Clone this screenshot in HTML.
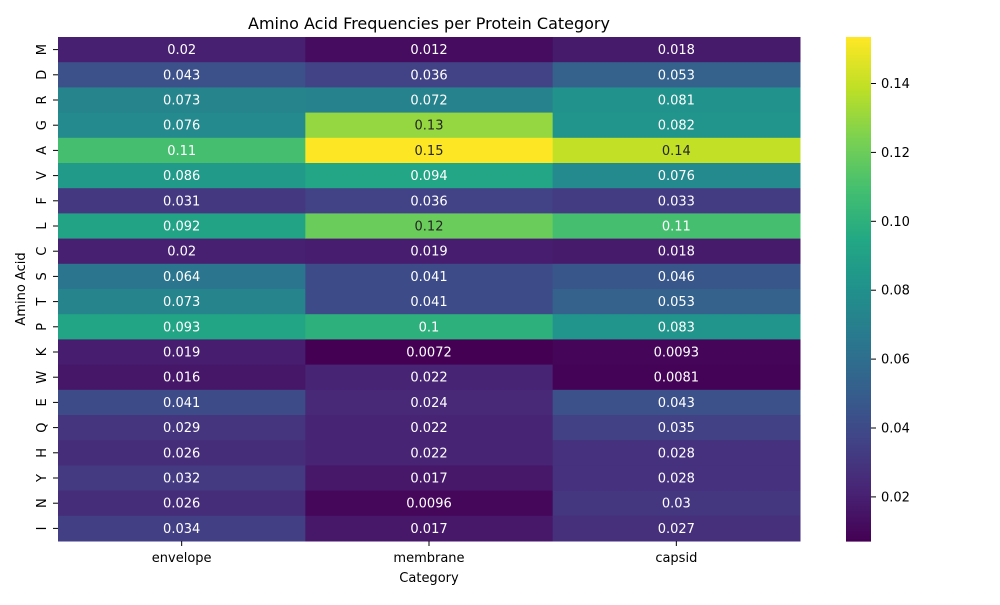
<!DOCTYPE html>
<html><head><meta charset="utf-8"><style>
body{margin:0;background:#fff;font-family:"Liberation Sans","DejaVu Sans",sans-serif}
svg text{font-family:"DejaVu Sans","Liberation Sans",sans-serif}
</style></head><body>
<svg id="chart" width="1000" height="600" xmlns="http://www.w3.org/2000/svg">
<text x="429" y="29" font-size="16" text-anchor="middle">Amino Acid Frequencies per Protein Category</text>
<text x="429" y="582" font-size="13" text-anchor="middle">Category</text>
<text transform="translate(25,289) rotate(-90)" font-size="13" text-anchor="middle">Amino Acid</text>
<g id="cells"></g><g id="cb"></g>
</svg>
<script>
const categories=["envelope","membrane","capsid"];
const aminoAcids=["M","D","R","G","A","V","F","L","C","S","T","P","K","W","E","Q","H","Y","N","I"];
const envelope=[0.02,0.043,0.073,0.076,0.11,0.086,0.031,0.092,0.02,0.064,0.073,0.093,0.019,0.016,0.041,0.029,0.026,0.032,0.026,0.034];
const membrane=[0.012,0.036,0.072,0.13,0.1535,0.094,0.036,0.12,0.019,0.041,0.041,0.1,0.0072,0.022,0.024,0.022,0.022,0.017,0.0096,0.017];
const capsid=[0.018,0.053,0.081,0.082,0.14,0.076,0.033,0.11,0.018,0.046,0.053,0.083,0.0093,0.0081,0.043,0.035,0.028,0.028,0.03,0.027];
const labelsE=["0.02","0.043","0.073","0.076","0.11","0.086","0.031","0.092","0.02","0.064","0.073","0.093","0.019","0.016","0.041","0.029","0.026","0.032","0.026","0.034"];
const labelsM=["0.012","0.036","0.072","0.13","0.15","0.094","0.036","0.12","0.019","0.041","0.041","0.1","0.0072","0.022","0.024","0.022","0.022","0.017","0.0096","0.017"];
const labelsC=["0.018","0.053","0.081","0.082","0.14","0.076","0.033","0.11","0.018","0.046","0.053","0.083","0.0093","0.0081","0.043","0.035","0.028","0.028","0.03","0.027"];
const cbTicks=[0.02,0.04,0.06,0.08,0.10,0.12,0.14];
const cbTickLabels=["0.02","0.04","0.06","0.08","0.10","0.12","0.14"];
const series=[envelope,membrane,capsid], labels=[labelsE,labelsM,labelsC];
const NS="http://www.w3.org/2000/svg";
const L=58,R=800,T=37,B=541;
const all=series.flat(); const vmin=Math.min(...all), vmax=Math.max(...all);
const stops=["#440154","#482475","#414487","#355f8d","#2a788e","#21918c","#22a884","#44bf70","#7ad151","#bddf26","#fde725"].map(h=>[1,3,5].map(i=>parseInt(h.substr(i,2),16)));
function cmap(t){t=Math.max(0,Math.min(1,t));const p=t*10,i=Math.min(9,Math.floor(p)),f=p-i;return stops[i].map((c,k)=>c+(stops[i+1][k]-c)*f);}
function norm(v){return (v-vmin)/(vmax-vmin);}
function lum(c){const l=c.map(x=>{x/=255;return x<=0.03928?x/12.92:Math.pow((x+0.055)/1.055,2.4)});return 0.2126*l[0]+0.7152*l[1]+0.0722*l[2];}
const cw=(R-L)/categories.length, rh=(B-T)/aminoAcids.length;
const xs=i=>L+i*cw, ys=j=>T+j*rh;
function el(tag,attrs,parent){const e=document.createElementNS(NS,tag);for(const k in attrs)e.setAttribute(k,attrs[k]);parent.appendChild(e);return e;}
const g=document.getElementById('cells'), svg=document.getElementById('chart');
series.forEach((s,i)=>s.forEach((v,j)=>{
  const c=cmap(norm(v));
  const r=el('rect',{x:xs(i),y:ys(j),width:cw+0.5,height:rh+0.5,fill:`rgb(${c.map(Math.round)})`},g);
  
  
  const t=el('text',{x:xs(i)+cw/2,y:ys(j)+rh/2+4.5,'font-size':13,'text-anchor':'middle',fill:lum(c)>0.408?'#262626':'#fff'},g);
  t.textContent=labels[i][j];
  
  
}));
categories.forEach((c,i)=>{
  el('line',{x1:xs(i)+cw/2,x2:xs(i)+cw/2,y1:B,y2:B+5,stroke:'#000'},svg);
  const t=el('text',{x:xs(i)+cw/2,y:B+21,'font-size':13,'text-anchor':'middle'},svg);
  t.textContent=c;
  
  
});
aminoAcids.forEach((a,j)=>{
  const y=ys(j)+rh/2;
  el('line',{x1:L-5,x2:L,y1:y,y2:y,stroke:'#000'},svg);
  const t=el('text',{transform:`translate(${L-12},${y}) rotate(-90)`,'font-size':13,'text-anchor':'middle'},svg);
  t.textContent=a;
  
  
});
const cb=document.getElementById('cb');
const CX=846,CW=25;
const cy=v=>B-(v-vmin)/(vmax-vmin)*(B-T);
for(let k=0;k<200;k++){
  const c=cmap(k/199);
  el('rect',{x:CX,y:B-(k+1)*(B-T)/200,width:CW,height:(B-T)/200+0.6,fill:`rgb(${c.map(Math.round)})`},cb);
}


cbTicks.forEach((v,k)=>{
  const y=cy(v);
  el('line',{x1:CX+CW,x2:CX+CW+5,y1:y,y2:y,stroke:'#000'},svg);
  const t=el('text',{x:CX+CW+10,y:y+4.5,'font-size':13},svg);
  t.textContent=cbTickLabels[k];
  
  
});
</script>
</body></html>
